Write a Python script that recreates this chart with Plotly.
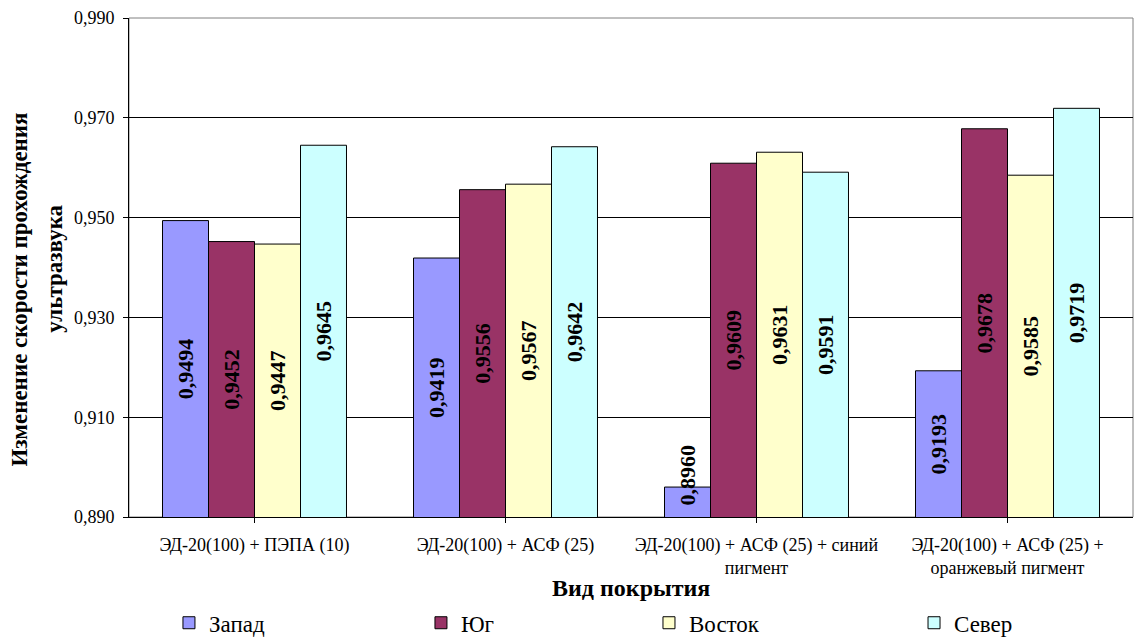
import plotly.graph_objects as go

# Coating types (category axis)
categories = [
    "ЭД-20(100) + ПЭПА (10)",
    "ЭД-20(100) + АСФ (25)",
    "ЭД-20(100) + АСФ (25) + синий<br>пигмент",
    "ЭД-20(100) + АСФ (25) +<br>оранжевый пигмент",
]

# Ultrasound velocity change by side
zapad = [0.9494, 0.9419, 0.8960, 0.9193]
yug = [0.9452, 0.9556, 0.9609, 0.9678]
vostok = [0.9447, 0.9567, 0.9631, 0.9585]
sever = [0.9645, 0.9642, 0.9591, 0.9719]

series_names = ["Запад", "Юг", "Восток", "Север"]
series_values = [zapad, yug, vostok, sever]
series_colors = ["#9999FF", "#993366", "#FFFFCC", "#CCFFFF"]

y_min, y_max = 0.890, 0.990
y_ticks = [0.890, 0.910, 0.930, 0.950, 0.970, 0.990]
y_ticktext = ["0,890", "0,910", "0,930", "0,950", "0,970", "0,990"]

serif = "Liberation Serif"
bargap = 0.267

fig = go.Figure()
x_idx = list(range(len(categories)))
legend_ids = ["legend", "legend2", "legend3", "legend4"]
for name, vals, col, lg in zip(series_names, series_values, series_colors, legend_ids):
    fig.add_trace(go.Bar(
        name=name, x=x_idx, y=vals, base=0, legend=lg,
        marker=dict(color=col, line=dict(color="black", width=1)),
    ))

# value labels, centred in each bar, rotated
n = len(series_values)
w = (1 - bargap) / n
for i, vals in enumerate(series_values):
    for j, v in enumerate(vals):
        yc = max((v + y_min) / 2, y_min + 0.0084)
        fig.add_annotation(
            x=j + (i - (n - 1) / 2) * w, y=yc, xref="x", yref="y",
            text="<b>" + f"{v:.4f}".replace(".", ",") + "</b>",
            textangle=-90, showarrow=False,
            font=dict(family=serif, size=22, color="black"),
        )

# plot area frame
fig.add_shape(type="rect", xref="paper", yref="paper", x0=0, y0=0, x1=1, y1=1,
              line=dict(color="#808080", width=1), layer="below")

# axis titles
fig.add_annotation(
    x=0.5, y=-0.142, xref="paper", yref="paper", yanchor="middle",
    text="<b>Вид покрытия</b>", showarrow=False,
    font=dict(family=serif, size=24, color="black"),
)
fig.add_annotation(
    x=-0.109, y=0.455, xref="paper", yref="paper", xanchor="center",
    text="<b>Изменение скорости прохождения</b>", textangle=-90, showarrow=False,
    font=dict(family=serif, size=23, color="black"),
)
fig.add_annotation(
    x=-0.074, y=0.497, xref="paper", yref="paper", xanchor="center",
    text="<b>ультразвука</b>", textangle=-90, showarrow=False,
    font=dict(family=serif, size=23, color="black"),
)

# one legend box per series, spread along the bottom
legend_x = [0.0398, 0.2908, 0.5179, 0.7819]
legend_style = dict(
    orientation="h", xanchor="left", y=-0.212, yanchor="middle",
    font=dict(family=serif, size=23, color="black"),
    bgcolor="rgba(0,0,0,0)",
)

fig.update_layout(
    width=1134, height=639,
    margin=dict(l=129, r=1, t=18, b=122, autoexpand=False),
    paper_bgcolor="white", plot_bgcolor="white",
    barmode="group", bargap=bargap, bargroupgap=0,
    font=dict(family=serif, color="black"),
    showlegend=True,
    legend=dict(x=legend_x[0], **legend_style),
    legend2=dict(x=legend_x[1], **legend_style),
    legend3=dict(x=legend_x[2], **legend_style),
    legend4=dict(x=legend_x[3], **legend_style),
    xaxis=dict(
        range=[-0.5, 3.5], tickmode="array", tickvals=x_idx, ticktext=categories,
        showline=True, linecolor="black", linewidth=1,
        ticks="outside", ticklen=5, tickcolor="black", tickson="boundaries",
        ticklabelstandoff=6,
        tickfont=dict(family=serif, size=18, color="black"),
        showgrid=False, zeroline=False,
    ),
    yaxis=dict(
        range=[y_min, y_max], tickmode="array", tickvals=y_ticks, ticktext=y_ticktext,
        showline=True, linecolor="black", linewidth=1,
        ticks="outside", ticklen=5, tickcolor="black",
        ticklabelstandoff=5,
        tickfont=dict(family=serif, size=18, color="black"),
        showgrid=True, gridcolor="black", gridwidth=1, zeroline=False,
    ),
)

fig.write_html("out.html")
